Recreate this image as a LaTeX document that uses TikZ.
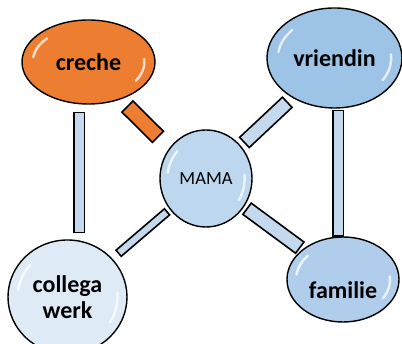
\documentclass[tikz,border=0pt]{standalone}
\usepackage{fontspec}
\setmainfont{Carlito}
\usepackage{tikz}
\usetikzlibrary{
    shapes.geometric,
    calc,
    backgrounds
}

\definecolor{crecheorange}{HTML}{ED7D31}
\definecolor{vriendblue}{HTML}{9DC3E6}
\definecolor{mamablue}{HTML}{BDD7EE}
\definecolor{familieblue}{HTML}{B0CEEB}
\definecolor{collegablue}{HTML}{DEEBF7}
\definecolor{barblue}{HTML}{C5D9EE}

\tikzset{
    blob/.style={ellipse, draw, line width=1.4pt, inner sep=0pt,
        font=\bfseries\fontsize{24}{26}\selectfont},
    bar/.style={draw, line width=1.6pt, line join=miter},
    shine/.style={white, line width=2.4pt, line cap=round, opacity=.75}
}

% a bar from #1 to #2, half width #3, filled with #4
\newcommand{\linkbar}[4]{%
    \coordinate (bs) at (#1);
    \coordinate (be) at (#2);
    \draw[bar, fill=#4] ($(bs)!#3!90:(be)$) -- ($(bs)!#3!-90:(be)$)
        -- ($(be)!#3!90:(bs)$) -- ($(be)!#3!-90:(bs)$) -- cycle;
}

% white gloss on an ellipse node #1 with half axes #2, #3
\newcommand{\shine}[3]{%
    \draw[shine] ($(#1.center)+({0.84*#2*cos(172)},{0.84*#3*sin(172)})$)
        arc[start angle=172, end angle=138, x radius=0.84*#2, y radius=0.84*#3];
    \draw[shine] ($(#1.center)+({0.84*#2*cos(-32)},{0.84*#3*sin(-32)})$)
        arc[start angle=-32, end angle=5, x radius=0.84*#2, y radius=0.84*#3];
}

\begin{document}
\begin{tikzpicture}[x=1pt, y=1pt]
    \useasboundingbox (0,0) rectangle (402,344);

    \node[blob, fill=crecheorange, minimum width=133pt, minimum height=84pt] (creche) at (88.5,282) {creche};
    \node[blob, fill=vriendblue, minimum width=135pt, minimum height=100pt] (vriendin) at (334.5,286) {vriendin};
    \node[blob, fill=mamablue, minimum width=92pt, minimum height=97pt,
        font=\fontsize{18.5}{20}\selectfont] (mama) at (206,165.5) {MAMA};
    \node[blob, fill=collegablue, minimum width=119pt, minimum height=114pt, align=center] (collega) at (67.5,47) {collega\\werk};
    \node[blob, fill=familieblue, minimum width=112pt, minimum height=85pt, text height=38pt] (familie) at (343,64.5) {familie};

    \begin{scope}[on background layer]
        \linkbar{$(creche)!59pt!(mama)+(-3,-3)$}{$(creche)!102pt!(mama)+(-3,-3)$}{7.8pt}{crecheorange}
        \linkbar{$(mama)!52.7pt!(vriendin)$}{$(mama)!111.4pt!(vriendin)$}{7pt}{barblue}
        \linkbar{$(mama)!51.3pt!(collega)$}{$(mama)!115pt!(collega)$}{4pt}{barblue}
        \linkbar{$(mama)!51pt!(familie)$}{$(mama)!116.5pt!(familie)$}{7pt}{barblue}
        \linkbar{$([xshift=-9.2pt]creche.south)+(0,-7.7)$}{$(bs |- collega.north)+(0,6.7)$}{5.3pt}{barblue}
        \linkbar{$([xshift=3.7pt]vriendin.south)+(0,-2)$}{bs |- familie.north}{5.2pt}{barblue}
    \end{scope}

    \shine{creche}{66.5}{42}
    \shine{vriendin}{67.5}{50}
    \shine{mama}{46}{48.5}
    \shine{collega}{59.5}{57}
    \shine{familie}{56}{42.5}
\end{tikzpicture}
\end{document}
